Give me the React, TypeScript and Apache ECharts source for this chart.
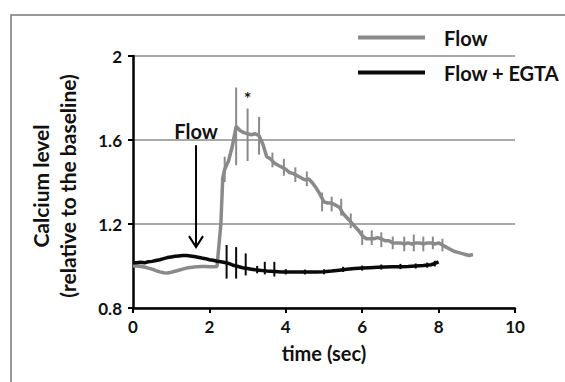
import React, { useEffect, useRef } from "react";
import * as echarts from "echarts";

const FONT = "Lato, 'Liberation Sans', sans-serif";

const flowTime = [
  0.0, 0.1, 0.2, 0.3, 0.4, 0.5, 0.6, 0.7, 0.8, 0.9, 1.0, 1.1, 1.2, 1.3, 1.4, 1.5, 1.6, 1.7, 1.8, 1.9,
  2.0, 2.1, 2.2, 2.3, 2.35, 2.4, 2.5, 2.6, 2.7, 2.8, 2.9, 3.0, 3.1, 3.2, 3.3, 3.4, 3.5, 3.6, 3.7, 3.8, 3.9,
  4.0, 4.1, 4.2, 4.3, 4.4, 4.5, 4.6, 4.7, 4.8, 4.9, 5.0, 5.1, 5.2, 5.3, 5.4, 5.5, 5.6, 5.7, 5.8, 5.9,
  6.0, 6.1, 6.2, 6.3, 6.4, 6.5, 6.6, 6.7, 6.8, 6.9, 7.0, 7.1, 7.2, 7.3, 7.4, 7.5, 7.6, 7.7, 7.8, 7.9,
  8.0, 8.1, 8.2, 8.3, 8.4, 8.5, 8.6, 8.7, 8.8, 8.9,
];
const flowValue = [
  1.0, 1.0, 0.998, 0.995, 0.99, 0.985, 0.978, 0.972, 0.968, 0.967, 0.97, 0.975, 0.98, 0.985, 0.99, 0.993, 0.995, 0.997, 0.998, 0.998,
  0.997, 0.997, 0.998, 1.2, 1.42, 1.46, 1.5, 1.57, 1.665, 1.645, 1.635, 1.63, 1.625, 1.63, 1.62, 1.58, 1.52, 1.51, 1.49, 1.48, 1.47,
  1.46, 1.445, 1.44, 1.43, 1.42, 1.41, 1.415, 1.395, 1.37, 1.34, 1.305, 1.3, 1.3, 1.29, 1.28, 1.25, 1.23, 1.21, 1.19, 1.17,
  1.145, 1.13, 1.13, 1.13, 1.135, 1.13, 1.12, 1.12, 1.11, 1.11, 1.11, 1.105, 1.11, 1.105, 1.11, 1.11, 1.105, 1.11, 1.11, 1.105,
  1.11, 1.1, 1.09, 1.08, 1.07, 1.065, 1.06, 1.055, 1.05, 1.055,
];

const egtaTime = [
  0.0, 0.1, 0.2, 0.3, 0.4, 0.5, 0.6, 0.7, 0.8, 0.9, 1.0, 1.1, 1.2, 1.3, 1.4, 1.5, 1.6, 1.7, 1.8, 1.9,
  2.0, 2.1, 2.2, 2.3, 2.4, 2.5, 2.6, 2.7, 2.8, 2.9, 3.0, 3.1, 3.2, 3.3, 3.4, 3.5, 3.6, 3.7, 3.8, 3.9,
  4.0, 4.2, 4.4, 4.6, 4.8, 5.0, 5.2, 5.4, 5.6, 5.8, 6.0, 6.2, 6.4, 6.6, 6.8, 7.0, 7.2, 7.4, 7.6, 7.8, 7.9, 8.0,
];
const egtaValue = [
  1.015, 1.015, 1.018, 1.015, 1.02, 1.022, 1.026, 1.03, 1.035, 1.04, 1.043, 1.046, 1.048, 1.05, 1.05, 1.048, 1.045, 1.042, 1.038, 1.035,
  1.03, 1.027, 1.023, 1.02, 1.017, 1.012, 1.005, 1.0, 0.995, 0.99, 0.988, 0.985, 0.982, 0.98, 0.978, 0.976, 0.975, 0.974, 0.973, 0.972,
  0.972, 0.971, 0.971, 0.971, 0.972, 0.973, 0.976, 0.98, 0.984, 0.988, 0.99, 0.992, 0.994, 0.995, 0.996, 0.997, 0.998, 1.0, 1.002, 1.006, 1.012, 1.02,
];

const flowErrTime = [2.4, 2.7, 3.0, 3.3, 3.65, 3.95, 4.25, 4.55, 4.95, 5.2, 5.45, 5.7, 6.0, 6.25, 6.5, 6.8, 7.1, 7.35, 7.6, 7.85, 8.1];
const flowErrLow = [1.4, 1.48, 1.5, 1.53, 1.47, 1.43, 1.4, 1.38, 1.26, 1.26, 1.24, 1.18, 1.1, 1.1, 1.09, 1.08, 1.07, 1.07, 1.07, 1.08, 1.07];
const flowErrHigh = [1.52, 1.85, 1.75, 1.71, 1.54, 1.51, 1.47, 1.45, 1.35, 1.33, 1.32, 1.25, 1.17, 1.17, 1.16, 1.14, 1.14, 1.15, 1.14, 1.14, 1.13];

const egtaErrTime = [2.45, 2.7, 2.95, 3.25, 3.45, 3.7, 4.0, 4.5, 5.0, 5.5, 6.0, 6.5, 7.0, 7.4, 7.7, 7.9];
const egtaErrLow = [0.94, 0.94, 0.955, 0.965, 0.96, 0.95, 0.96, 0.96, 0.961, 0.972, 0.978, 0.983, 0.985, 0.988, 0.992, 0.998];
const egtaErrHigh = [1.1, 1.09, 1.06, 1.0, 1.02, 1.02, 0.985, 0.983, 0.985, 0.996, 1.002, 1.007, 1.01, 1.012, 1.016, 1.025];

const yTicks = [0.8, 1.2, 1.6, 2];
const xTicks = [0, 2, 4, 6, 8, 10];

const seriesNames = ["Flow", "Flow + EGTA"];
const FLOW_COLOR = "#8a8a8a";
const EGTA_COLOR = "#0a0a0a";

function errBarSeries(times: number[], lo: number[], hi: number[], color: string, width: number) {
  return {
    type: "custom",
    silent: true,
    z: 3,
    data: times.map((t, i) => [t, lo[i], hi[i]]),
    encode: { x: 0, y: [1, 2] },
    renderItem: (params: any, api: any) => {
      const x = api.value(0);
      const p1 = api.coord([x, api.value(1)]);
      const p2 = api.coord([x, api.value(2)]);
      return {
        type: "line",
        shape: { x1: p1[0], y1: p1[1], x2: p2[0], y2: p2[1] },
        style: { stroke: color, lineWidth: width },
      };
    },
  };
}

export default function App() {
  const ref = useRef<HTMLDivElement>(null);
  useEffect(() => {
    if (!ref.current) return;
    const chart = echarts.init(ref.current, null, { renderer: "svg" });
    const option: any = {
      animation: false,
      backgroundColor: "#ffffff",
      textStyle: { fontFamily: FONT },
      grid: { left: 133, top: 56, right: 50, bottom: 74, containLabel: false },
      legend: {
        orient: "vertical",
        left: 353,
        top: 21,
        itemWidth: 67,
        itemHeight: 4,
        itemGap: 12,
        icon: "rect",
        data: seriesNames,
        textStyle: {
          fontFamily: FONT,
          fontWeight: "bold",
          fontSize: 20,
          color: "#111",
          padding: [0, 0, 0, 14],
          lineHeight: 23,
        },
      },
      xAxis: {
        type: "value",
        min: 0,
        max: 10,
        interval: 2,
        name: "time (sec)",
        nameLocation: "middle",
        nameGap: 35,
        nameTextStyle: { fontFamily: FONT, fontWeight: "bold", fontSize: 20, color: "#111" },
        axisLine: { lineStyle: { color: "#000", width: 2.5 } },
        axisTick: { show: true, length: 5, lineStyle: { color: "#000", width: 2 } },
        axisLabel: {
          fontFamily: FONT,
          fontWeight: "bold",
          fontSize: 17,
          color: "#111",
          margin: 10,
          formatter: (v: number) => (xTicks.includes(v) ? String(v) : ""),
        },
        splitLine: { show: false },
      },
      yAxis: {
        type: "value",
        min: 0.8,
        max: 2,
        interval: 0.4,
        axisLine: { show: true, lineStyle: { color: "#000", width: 2.5 } },
        axisTick: { show: true, length: 5, lineStyle: { color: "#000", width: 2 } },
        axisLabel: {
          fontFamily: FONT,
          fontWeight: "bold",
          fontSize: 17,
          color: "#111",
          margin: 11,
          formatter: (v: number) => {
            const t = yTicks.find((k) => Math.abs(k - v) < 1e-6);
            return t === undefined ? "" : String(t);
          },
        },
        splitLine: { show: true, lineStyle: { color: "#8c8c8c", width: 1.5 } },
      },
      series: [
        {
          name: seriesNames[0],
          type: "line",
          data: flowTime.map((t, i) => [t, flowValue[i]]),
          showSymbol: false,
          symbol: "none",
          color: FLOW_COLOR,
          lineStyle: { color: FLOW_COLOR, width: 3.5 },
          z: 2,
        },
        errBarSeries(flowErrTime, flowErrLow, flowErrHigh, FLOW_COLOR, 2),
        {
          name: seriesNames[1],
          type: "line",
          data: egtaTime.map((t, i) => [t, egtaValue[i]]),
          showSymbol: false,
          symbol: "none",
          color: EGTA_COLOR,
          lineStyle: { color: EGTA_COLOR, width: 3.5 },
          z: 4,
        },
        errBarSeries(egtaErrTime, egtaErrLow, egtaErrHigh, EGTA_COLOR, 2),
      ],
    };
    chart.setOption(option);

    const arrowTop = chart.convertToPixel({ gridIndex: 0 }, [1.65, 1.575]) as number[];
    const arrowBot = chart.convertToPixel({ gridIndex: 0 }, [1.65, 1.09]) as number[];
    const flowLbl = chart.convertToPixel({ gridIndex: 0 }, [1.65, 1.645]) as number[];
    const star = chart.convertToPixel({ gridIndex: 0 }, [3.0, 1.8]) as number[];

    const titleStyle = {
      fontFamily: FONT,
      fontWeight: "bold",
      fontSize: 21,
      fill: "#111",
      align: "center",
      verticalAlign: "middle",
    };

    chart.setOption({
      graphic: [
        {
          type: "rect",
          shape: { x: 11, y: 15, width: 600, height: 420 },
          style: { fill: "none", stroke: "#777", lineWidth: 1.5 },
          silent: true,
        },
        {
          type: "text",
          x: 40,
          y: 186,
          rotation: Math.PI / 2,
          style: { ...titleStyle, text: "Calcium level" },
        },
        {
          type: "text",
          x: 67,
          y: 186,
          rotation: Math.PI / 2,
          style: { ...titleStyle, text: "(relative to the baseline)" },
        },
        {
          type: "text",
          x: flowLbl[0],
          y: flowLbl[1],
          style: { ...titleStyle, fontSize: 20, text: "Flow" },
        },
        {
          type: "line",
          shape: { x1: arrowTop[0], y1: arrowTop[1], x2: arrowBot[0], y2: arrowBot[1] },
          style: { stroke: "#000", lineWidth: 2 },
        },
        {
          type: "polyline",
          shape: {
            points: [
              [arrowBot[0] - 7, arrowBot[1] - 11],
              [arrowBot[0], arrowBot[1]],
              [arrowBot[0] + 7, arrowBot[1] - 11],
            ],
          },
          style: { stroke: "#000", lineWidth: 2, fill: "none" },
        },
        {
          type: "text",
          x: star[0],
          y: star[1],
          style: { ...titleStyle, fontSize: 17, text: "*" },
        },
      ],
    });
    return () => chart.dispose();
  }, []);
  return (
    <div
      ref={ref}
      style={{ position: "fixed", left: 0, top: 0, width: 565, height: 382, background: "#fff" }}
    />
  );
}
